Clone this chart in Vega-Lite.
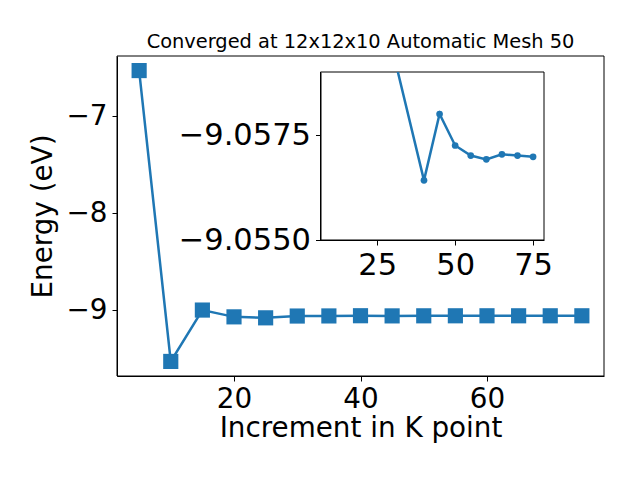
{
  "$schema": "https://vega.github.io/schema/vega-lite/v6.json",
  "autosize": "none",
  "width": 487,
  "height": 304,
  "padding": {"left": 117, "top": 72, "right": 36, "bottom": 104},
  "background": "white",
  "title": {
    "text": "Converged at 12x12x10 Automatic Mesh 50",
    "font": "DejaVu Sans",
    "fontSize": 19.4,
    "fontWeight": "normal",
    "color": "black",
    "frame": "group",
    "anchor": "middle",
    "offset": 3.5
  },
  "config": {
    "view": {"stroke": null},
    "font": "DejaVu Sans",
    "axis": {
      "labelFont": "DejaVu Sans",
      "titleFont": "DejaVu Sans",
      "labelFontSize": 27.8,
      "titleFontSize": 27.8,
      "titleFontWeight": "normal",
      "labelColor": "black",
      "titleColor": "black",
      "domainColor": "black",
      "tickColor": "black",
      "domainWidth": 1,
      "tickWidth": 1,
      "tickSize": 5,
      "labelPadding": 4,
      "grid": false,
      "labelFlush": false,
      "labelOverlap": false
    }
  },
  "datasets": {
    "main": [
      {"k": 5, "energy": -6.532},
      {"k": 10, "energy": -9.527},
      {"k": 15, "energy": -8.998},
      {"k": 20, "energy": -9.068},
      {"k": 25, "energy": -9.078},
      {"k": 30, "energy": -9.0595},
      {"k": 35, "energy": -9.0585},
      {"k": 40, "energy": -9.0564},
      {"k": 45, "energy": -9.058},
      {"k": 50, "energy": -9.05725},
      {"k": 55, "energy": -9.05701},
      {"k": 60, "energy": -9.05692},
      {"k": 65, "energy": -9.05704},
      {"k": 70, "energy": -9.05701},
      {"k": 75, "energy": -9.05698}
    ],
    "inset": [
      {"k": 30, "energy": -9.0595},
      {"k": 40, "energy": -9.05642},
      {"k": 45, "energy": -9.058},
      {"k": 50, "energy": -9.05725},
      {"k": 55, "energy": -9.05701},
      {"k": 60, "energy": -9.05692},
      {"k": 65, "energy": -9.05704},
      {"k": 70, "energy": -9.05701},
      {"k": 75, "energy": -9.05698}
    ],
    "mainframe": [{"x0": 1.5, "x1": 78.5, "y0": -9.677, "y1": -6.382}],
    "insetframe": [{"x0": 6.8, "x1": 78.5, "y0": -9.059, "y1": -9.055}]
  },
  "layer": [
    {
      "layer": [
        {
          "data": {"name": "main"},
          "mark": {"type": "line", "color": "#1f77b4", "strokeWidth": 2.5},
          "encoding": {
            "x": {
              "field": "k", "type": "quantitative", "title": "Increment in K point",
              "scale": {"domain": [1.5, 78.5], "nice": false, "zero": false},
              "axis": {"values": [20, 40, 60], "titlePadding": 2}
            },
            "y": {
              "field": "energy", "type": "quantitative", "title": "Energy (eV)",
              "scale": {"domain": [-9.677, -6.382], "range": [304, -16], "nice": false, "zero": false},
              "axis": {"values": [-9, -8, -7], "format": "d", "labelPadding": 5, "titlePadding": 9}
            }
          }
        },
        {
          "data": {"name": "main"},
          "mark": {"type": "point", "shape": "square", "filled": true, "opacity": 1, "size": 230, "color": "#1f77b4"},
          "encoding": {
            "x": {"field": "k", "type": "quantitative", "title": "Increment in K point"},
            "y": {"field": "energy", "type": "quantitative", "title": "Energy (eV)"}
          }
        },
        {
          "data": {"name": "mainframe"},
          "mark": {"type": "rect", "fill": "white", "fillOpacity": 0, "stroke": "black", "strokeWidth": 1},
          "encoding": {
            "x": {"field": "x0", "type": "quantitative", "title": "Increment in K point"},
            "x2": {"field": "x1"},
            "y": {"field": "y0", "type": "quantitative", "title": "Energy (eV)"},
            "y2": {"field": "y1"}
          }
        }
      ]
    },
    {
      "layer": [
        {
          "data": {"name": "insetframe"},
          "mark": {"type": "rect", "fill": "white", "stroke": "black", "strokeWidth": 1},
          "encoding": {
            "x": {
              "field": "x0", "type": "quantitative", "title": null,
              "scale": {"domain": [6.8, 78.5], "range": [203.5, 427], "nice": false, "zero": false},
              "axis": {"orient": "bottom", "offset": -136, "values": [25, 50, 75], "labelFontSize": 30.5, "labelPadding": 5, "zindex": 1, "title": null}
            },
            "x2": {"field": "x1"},
            "y": {
              "field": "y0", "type": "quantitative", "title": null,
              "scale": {"domain": [-9.059, -9.055], "range": [0, 168], "nice": false, "zero": false},
              "axis": {"orient": "left", "offset": -203.5, "values": [-9.0575, -9.055], "format": ".4f", "labelFontSize": 30.5, "labelPadding": 5, "zindex": 1, "title": null}
            },
            "y2": {"field": "y1"}
          }
        },
        {
          "data": {"name": "inset"},
          "mark": {"type": "line", "color": "#1f77b4", "strokeWidth": 2.5, "clip": true},
          "encoding": {
            "x": {"field": "k", "type": "quantitative", "title": null},
            "y": {"field": "energy", "type": "quantitative", "title": null}
          }
        },
        {
          "data": {"name": "inset"},
          "mark": {"type": "point", "shape": "circle", "filled": true, "opacity": 1, "size": 45, "color": "#1f77b4", "clip": true},
          "encoding": {
            "x": {"field": "k", "type": "quantitative", "title": null},
            "y": {"field": "energy", "type": "quantitative", "title": null}
          }
        }
      ]
    }
  ],
  "resolve": {
    "scale": {"x": "independent", "y": "independent"},
    "axis": {"x": "independent", "y": "independent"}
  }
}
